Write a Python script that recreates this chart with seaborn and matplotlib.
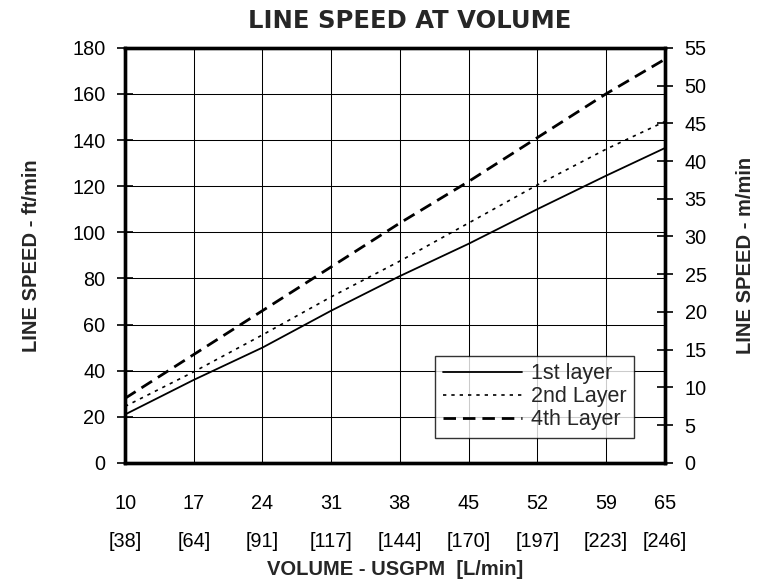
import pandas as pd
import matplotlib
matplotlib.use("Agg")
from matplotlib import pyplot as plt
import seaborn as sns

# volume in US gallons per minute, with the litre/min equivalents used as tick labels
volume_gpm = [10, 17, 24, 31, 38, 45, 52, 59, 65]
volume_lpm = [38, 64, 91, 117, 144, 170, 197, 223, 246]

# line speed in ft/min
speed_1st = [21, 36, 50, 66, 81, 95, 110, 124.5, 136.5]
speed_2nd = [24.5, 39.5, 55.5, 72, 87.5, 104, 120.5, 136, 148]
speed_4th = [28, 47, 66, 85, 104, 122, 141, 160, 175]

layer_names = ["1st layer", "2nd Layer", "4th Layer"]

df = pd.concat([
    pd.DataFrame({"gpm": volume_gpm, "speed": s, "layer": name})
    for s, name in zip([speed_1st, speed_2nd, speed_4th], layer_names)
])

sns.set_theme(style="white")
plt.rcParams['font.family'] = ['Liberation Sans', 'DejaVu Sans']

fig = plt.figure(figsize=(7.58, 5.83), dpi=100)
ax = fig.add_axes([0.165, 0.206, 0.712, 0.712])

sns.lineplot(data=df, x="gpm", y="speed", hue="layer", style="layer",
             palette={n: "black" for n in layer_names},
             dashes={"1st layer": "", "2nd Layer": (2, 3), "4th Layer": (4.5, 2.5)},
             size="layer", sizes={"1st layer": 1.3, "2nd Layer": 1.2, "4th Layer": 2.0},
             ax=ax, legend=True)

ax.set_xlim(10, 65)
ax.set_ylim(0, 180)
ax.set_xticks(volume_gpm)
ax.set_xticklabels([f"{g}\n\n[{l}]" for g, l in zip(volume_gpm, volume_lpm)],
                   linespacing=0.97)
ax.set_yticks(range(0, 181, 20))
ax.grid(True, color="black", linewidth=0.75)
for side in ax.spines.values():
    side.set_linewidth(2.4)
    side.set_color("black")
ax.tick_params(direction="inout", length=11.5, width=1.2, colors="black",
               labelsize=14.3, pad=8.5)
ax.tick_params(axis="x", pad=17)

ax.set_xlabel("VOLUME - USGPM  [L/min]", fontsize=14.5, fontweight="bold", labelpad=7)
ax.set_ylabel("LINE SPEED - ft/min", fontsize=14.5, fontweight="bold", labelpad=22)
ax.set_title("LINE SPEED AT VOLUME", fontsize=17.5, fontweight="heavy",
             family=["DejaVu Sans"], pad=14, x=0.527)

ax2 = ax.twinx()
ax2.set_ylim(0, 55)
ax2.set_yticks(range(0, 56, 5))
ax2.tick_params(direction="inout", length=11.5, width=1.2, colors="black",
                labelsize=14.3, pad=8.5)
ax2.set_ylabel("LINE SPEED - m/min", fontsize=14.5, fontweight="bold", labelpad=21)
for side in ax2.spines.values():
    side.set_linewidth(2.4)
    side.set_color("black")

handles, labels = ax.get_legend_handles_labels()
leg = ax.legend(handles, labels, loc="lower right", bbox_to_anchor=(0.943, 0.06),
                fontsize=15.5, handlelength=3.7, frameon=True, fancybox=False,
                borderpad=0.35, labelspacing=0.1, handletextpad=0.4,
                borderaxespad=0)
leg.get_frame().set_edgecolor("black")
leg.get_frame().set_linewidth(1.0)
leg.set_zorder(5)
ax.set_zorder(ax2.get_zorder() + 1)
ax.patch.set_visible(False)

plt.savefig("out.png", dpi=100)
